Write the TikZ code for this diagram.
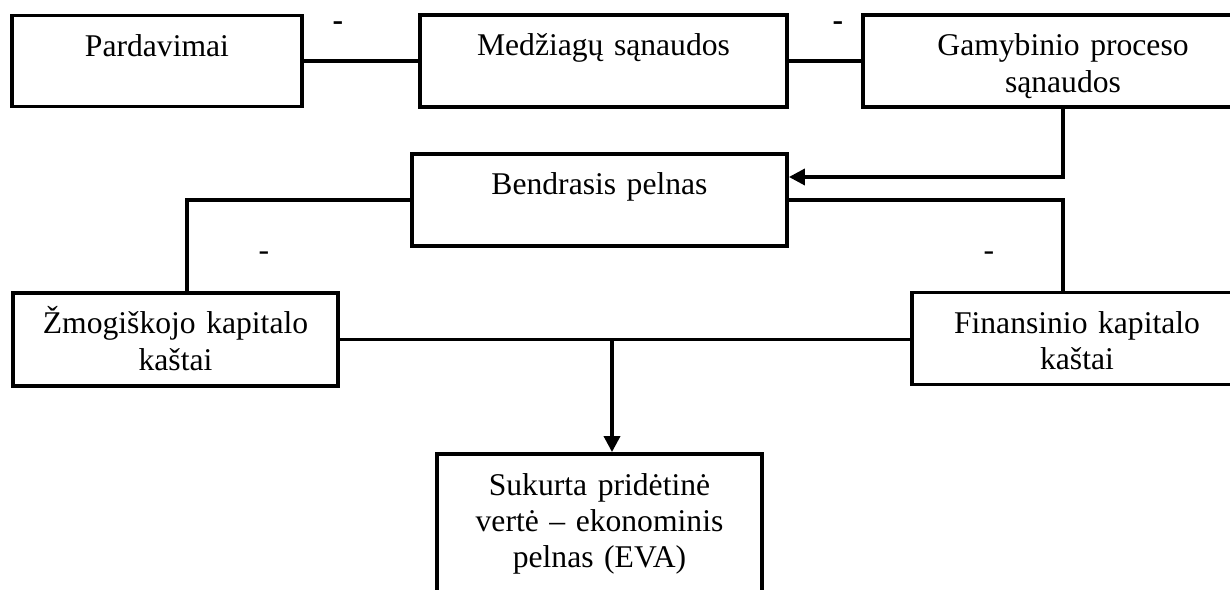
\documentclass[tikz,border=0pt]{standalone}
\usepackage{fontspec}
\setmainfont{Liberation Serif}
\usepackage{tikz}
\usetikzlibrary{arrows.meta,calc}

\begin{document}
\begin{tikzpicture}[
	x = 0.02cm, y = -0.02cm,
	every node/.style = {font = \fontsize{18pt}{20.5pt}\selectfont},
	box/.style = {draw, line width = 2.2pt, fill = white, inner sep = 0pt, align = center, text height = 0.82cm},
	link/.style = {line width = 2pt},
	minus/.style = {inner sep = 0pt},
	>= {Triangle[length = 0.32cm, width = 0.32cm]}
	]

	\clip (0,0) rectangle (1230,590);

	\node[box, text width = 5.8cm, text depth = 1cm] (pard) at (157,61) {Pardavimai};
	\node[box, text width = 7.34cm, text depth = 1.02cm] (medz) at (603.5,61) {Medžiagų sąnaudos};
	\node[box, text width = 8cm, text depth = 1.02cm] (gamy) at (1063,61) {Gamybinio proceso\\ sąnaudos};
	\node[box, text width = 7.5cm, text depth = 1.02cm] (bend) at (599.5,200) {Bendrasis pelnas};
	\node[box, text width = 6.5cm, text depth = 1.04cm] (zmog) at (175.5,339.5) {Žmogiškojo kapitalo\\ kaštai};
	\node[box, text width = 6.6cm, text depth = 1.02cm] (fin) at (1077,338.5) {Finansinio kapitalo\\ kaštai};
	\node[box, text width = 6.5cm, text depth = 2.58cm] (suk) at (599.5,539) {Sukurta pridėtinė\\ vertė – ekonominis\\ pelnas (EVA)};

	\draw[link] (pard.east) -- (medz.west);
	\draw[link] (medz.east) -- (gamy.west);
	\draw[link,->] (gamy.south) |- ($(bend.east)+(0,-23)$);
	\draw[link] (bend.east) -| (gamy.south |- fin.north);
	\draw[link] (bend.west) -| ($(zmog.north)+(11.5,0)$);
	\draw[link] (zmog.east) -- (zmog.east -| fin.west);

	\coordinate (split) at (612,339.5);
	\draw[link,->] (split) -- (split |- suk.north);

	\node[minus, font = \fontsize{18pt}{20pt}\selectfont\bfseries] (m1) at (338,26) {-};
	\node[minus, font = \fontsize{18pt}{20pt}\selectfont\bfseries] (m2) at (838,26) {-};
	\node[minus] (m3) at (264,256) {-};
	\node[minus] (m4) at (989,256) {-};

\end{tikzpicture}
\end{document}
